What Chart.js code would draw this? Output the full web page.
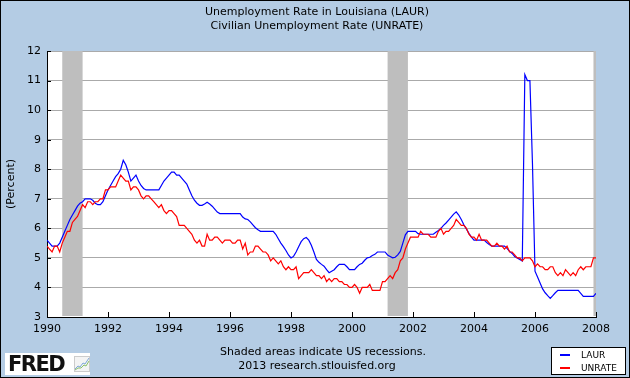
<!DOCTYPE html>
<html>
<head>
<meta charset="utf-8">
<script src="https://cdn.jsdelivr.net/npm/chart.js@4.4.1/dist/chart.umd.min.js"></script>
<style>
    body { margin: 0; }
    #wrap { position: relative; width: 630px; height: 378px; font-family: "DejaVu Sans", sans-serif; color: #000; }
    #wrap canvas { position: absolute; left: 0; top: 0; }
    .line { position: absolute; left: 0; width: 634px; text-align: center; font-size: 11px; line-height: 14px; white-space: nowrap; }
    #legend { position: absolute; left: 551px; top: 347px; width: 75px; height: 28px; box-sizing: border-box; border: 1px solid #000; background: #fff; font-size: 9px; }
    #legend .item { position: absolute; left: 8px; height: 12px; line-height: 12px; }
    #legend .swatch { position: absolute; left: 0; top: 5px; width: 10px; height: 2px; }
    #legend .name { position: absolute; left: 21px; top: 0; }
    #logo { position: absolute; left: 5px; top: 353px; width: 85px; height: 22px; background: #fff; }
    #logo .fred { position: absolute; left: 3px; top: 0; font: bold 21px/22px "DejaVu Sans", sans-serif; letter-spacing: -1.5px; color: #111; }
    #logo svg { position: absolute; left: 69px; top: 3px; }
</style>
</head>
<body>
<div id="wrap">
    <canvas id="chart" width="630" height="378"></canvas>
    <div class="line" style="top:5px">Unemployment Rate in Louisiana (LAUR)</div>
    <div class="line" style="top:19px">Civilian Unemployment Rate (UNRATE)</div>
    <div class="line" style="top:345px; left:6px">Shaded areas indicate US recessions.</div>
    <div class="line" style="top:359px">2013 research.stlouisfed.org</div>
    <div id="logo">
        <span class="fred">FRED</span>
        <svg width="16" height="16" viewBox="0 0 16 16">
            <rect x="0.5" y="0.5" width="15" height="15" fill="#f4f4f4" stroke="#ccc"/>
            <polyline points="1,13 4,10 6,11 9,7 11,8 15,2" fill="none" stroke="#7fa8d8" stroke-width="1"/>
            <polyline points="1,14 4,12 7,12 10,9 12,10 15,5" fill="none" stroke="#8cc06a" stroke-width="1"/>
        </svg>
    </div>
    <div id="legend"></div>
</div>
<script>
// monthly values, Jan 1990 .. Jan 2008
const startYear = 1990;

const laur = [
    5.6, 5.5, 5.4, 5.4, 5.4, 5.5, 5.7, 5.9, 6.1, 6.3, 6.45, 6.6,
    6.75, 6.85, 6.9, 7.0, 7.0, 7.0, 6.95, 6.85, 6.8, 6.8, 6.9, 7.1,
    7.3, 7.45, 7.6, 7.75, 7.85, 8.0, 8.3, 8.15, 7.9, 7.6, 7.7, 7.8,
    7.6, 7.45, 7.35, 7.3, 7.3, 7.3, 7.3, 7.3, 7.3, 7.45, 7.6, 7.7,
    7.8, 7.9, 7.9, 7.8, 7.8, 7.7, 7.6, 7.5, 7.3, 7.1, 6.95, 6.85,
    6.78, 6.78, 6.82, 6.88, 6.82, 6.75, 6.65, 6.55, 6.5, 6.5, 6.5, 6.5,
    6.5, 6.5, 6.5, 6.5, 6.5, 6.38, 6.32, 6.3, 6.22, 6.12, 6.02, 5.95,
    5.9, 5.9, 5.9, 5.9, 5.9, 5.9, 5.8, 5.65, 5.5, 5.38, 5.25, 5.1,
    5.0, 5.05, 5.2, 5.38, 5.55, 5.65, 5.69, 5.6, 5.43, 5.2, 4.95, 4.85,
    4.78, 4.72, 4.6, 4.5, 4.55, 4.6, 4.7, 4.78, 4.78, 4.78, 4.7, 4.6,
    4.6, 4.6, 4.7, 4.78, 4.82, 4.92, 5.0, 5.02, 5.08, 5.12, 5.2, 5.2,
    5.2, 5.2, 5.1, 5.05, 5.0, 5.02, 5.1, 5.22, 5.5, 5.78, 5.9, 5.9,
    5.9, 5.9, 5.82, 5.8, 5.8, 5.8, 5.8, 5.8, 5.8, 5.87, 5.93, 6.0,
    6.1, 6.18, 6.28, 6.38, 6.48, 6.56, 6.45, 6.3, 6.12, 5.98, 5.83, 5.7,
    5.6, 5.6, 5.6, 5.6, 5.6, 5.52, 5.45, 5.4, 5.4, 5.4, 5.4, 5.4,
    5.4, 5.32, 5.22, 5.15, 5.05, 5.0, 4.95, 4.9, 11.2, 11.0, 11.0, 8.2,
    4.55, 4.35, 4.15, 3.95, 3.82, 3.72, 3.63, 3.72, 3.82, 3.9, 3.9, 3.9,
    3.9, 3.9, 3.9, 3.9, 3.9, 3.9, 3.8, 3.7, 3.7, 3.7, 3.7, 3.7,
    3.8
];

const unrate = [
    5.4, 5.3, 5.2, 5.4, 5.4, 5.2, 5.5, 5.7, 5.9, 5.9, 6.2, 6.3,
    6.4, 6.6, 6.8, 6.7, 6.9, 6.9, 6.8, 6.9, 6.9, 7.0, 7.0, 7.3,
    7.3, 7.4, 7.4, 7.4, 7.6, 7.8, 7.7, 7.6, 7.6, 7.3, 7.4, 7.4,
    7.3, 7.1, 7.0, 7.1, 7.1, 7.0, 6.9, 6.8, 6.7, 6.8, 6.6, 6.5,
    6.6, 6.6, 6.5, 6.4, 6.1, 6.1, 6.1, 6.0, 5.9, 5.8, 5.6, 5.5,
    5.6, 5.4, 5.4, 5.8, 5.6, 5.6, 5.7, 5.7, 5.6, 5.5, 5.6, 5.6,
    5.6, 5.5, 5.5, 5.6, 5.6, 5.3, 5.5, 5.1, 5.2, 5.2, 5.4, 5.4,
    5.3, 5.2, 5.2, 5.1, 4.9, 5.0, 4.9, 4.8, 4.9, 4.7, 4.6, 4.7,
    4.6, 4.6, 4.7, 4.3, 4.4, 4.5, 4.5, 4.5, 4.6, 4.5, 4.4, 4.4,
    4.3, 4.4, 4.2, 4.3, 4.2, 4.3, 4.3, 4.2, 4.2, 4.1, 4.1, 4.0,
    4.0, 4.1, 4.0, 3.8, 4.0, 4.0, 4.0, 4.1, 3.9, 3.9, 3.9, 3.9,
    4.2, 4.2, 4.3, 4.4, 4.3, 4.5, 4.6, 4.9, 5.0, 5.3, 5.5, 5.7,
    5.7, 5.7, 5.7, 5.9, 5.8, 5.8, 5.8, 5.7, 5.7, 5.7, 5.9, 6.0,
    5.8, 5.9, 5.9, 6.0, 6.1, 6.3, 6.2, 6.1, 6.1, 6.0, 5.8, 5.7,
    5.7, 5.6, 5.8, 5.6, 5.6, 5.6, 5.5, 5.4, 5.4, 5.5, 5.4, 5.4,
    5.3, 5.4, 5.2, 5.2, 5.1, 5.0, 5.0, 4.9, 5.0, 5.0, 5.0, 4.9,
    4.7, 4.8, 4.7, 4.7, 4.6, 4.6, 4.7, 4.7, 4.5, 4.4, 4.5, 4.4,
    4.6, 4.5, 4.4, 4.5, 4.4, 4.6, 4.7, 4.6, 4.7, 4.7, 4.7, 5.0,
    5.0
];

const seriesNames = ['LAUR', 'UNRATE'];
const seriesColors = ['#0000ff', '#ff0000'];

// recessions as decimal years
const recessionStart = [1990.5, 2001.167, 2007.917];
const recessionEnd = [1991.167, 2001.833, 2008.0];

const xTickYears = [1990, 1992, 1994, 1996, 1998, 2000, 2002, 2004, 2006, 2008];
const yTickValues = [3, 4, 5, 6, 7, 8, 9, 10, 11, 12];

function toPoints(values) {
    return values.map((v, i) => ({ x: startYear + i / 12, y: v }));
}

const legendBox = document.getElementById('legend');
seriesNames.forEach((name, i) => {
    const item = document.createElement('div');
    item.className = 'item';
    item.style.top = (i === 0 ? 1 : 14) + 'px';
    item.innerHTML = '<span class="swatch" style="background:' + seriesColors[i] + '"></span><span class="name">' + name + '</span>';
    legendBox.appendChild(item);
});

const plotBackground = {
    id: 'plotBackground',
    beforeDraw(chart) {
        const { ctx, chartArea } = chart;
        ctx.save();
        ctx.fillStyle = '#b4cce4';
        ctx.fillRect(0, 0, chart.width, chart.height);
        ctx.fillStyle = '#ffffff';
        ctx.fillRect(chartArea.left, chartArea.top, chartArea.right - chartArea.left, chartArea.bottom - chartArea.top);
        ctx.strokeStyle = '#000';
        ctx.lineWidth = 1;
        ctx.strokeRect(0.5, 0.5, chart.width - 1, chart.height - 1);
        ctx.restore();
    }
};

const recessions = {
    id: 'recessions',
    beforeDatasetsDraw(chart) {
        const { ctx, chartArea, scales: { x, y } } = chart;
        ctx.save();
        ctx.fillStyle = '#bebebe';
        recessionStart.forEach((start, i) => {
            const x1 = x.getPixelForValue(start);
            const x2 = x.getPixelForValue(recessionEnd[i]);
            ctx.fillRect(x1, chartArea.top, x2 - x1, chartArea.bottom - chartArea.top - 1);
        });

        // short tick marks pointing into the plot
        ctx.strokeStyle = '#000';
        ctx.lineWidth = 1;
        ctx.beginPath();
        y.ticks.forEach(t => {
            const py = Math.round(y.getPixelForValue(t.value)) + 0.5;
            ctx.moveTo(chartArea.left, py);
            ctx.lineTo(chartArea.left + 4, py);
        });
        x.ticks.forEach(t => {
            const px = Math.round(x.getPixelForValue(t.value)) + 0.5;
            ctx.moveTo(px, chartArea.bottom);
            ctx.lineTo(px, chartArea.bottom - 5);
        });
        ctx.stroke();
        ctx.restore();
    }
};

const tickFont = { family: 'DejaVu Sans', size: 11 };

new Chart(document.getElementById('chart'), {
    type: 'line',
    data: {
        datasets: [
            {
                label: seriesNames[0],
                data: toPoints(laur),
                borderColor: seriesColors[0],
                borderWidth: 1.2,
                pointRadius: 0,
                tension: 0,
                order: 1
            },
            {
                label: seriesNames[1],
                data: toPoints(unrate),
                borderColor: seriesColors[1],
                borderWidth: 1.2,
                pointRadius: 0,
                tension: 0,
                order: 0
            }
        ]
    },
    options: {
        responsive: false,
        animation: false,
        events: [],
        layout: { padding: { left: 0, right: 34, top: 51, bottom: 0 } },
        plugins: {
            legend: { display: false },
            tooltip: { enabled: false }
        },
        scales: {
            x: {
                type: 'linear',
                min: 1990,
                max: 2008,
                afterBuildTicks: scale => { scale.ticks = xTickYears.map(v => ({ value: v })); },
                afterFit: scale => { scale.height = 61; },
                grid: { display: false, drawTicks: false },
                border: { display: true, color: '#000', width: 1 },
                ticks: {
                    color: '#000',
                    padding: 6,
                    maxRotation: 0,
                    autoSkip: false,
                    font: tickFont,
                    callback: v => String(v)
                }
            },
            y: {
                min: 3,
                max: 12,
                afterBuildTicks: scale => { scale.ticks = yTickValues.map(v => ({ value: v })); },
                afterFit: scale => { scale.width = 47; },
                grid: { color: '#aaaaaa', drawTicks: false },
                border: { display: true, color: '#000', width: 1 },
                ticks: { color: '#000', padding: 6, font: tickFont },
                title: {
                    display: true,
                    text: '(Percent)',
                    color: '#000',
                    font: tickFont,
                    padding: { top: 5, bottom: 0 }
                }
            }
        }
    },
    plugins: [plotBackground, recessions]
});
</script>
</body>
</html>
